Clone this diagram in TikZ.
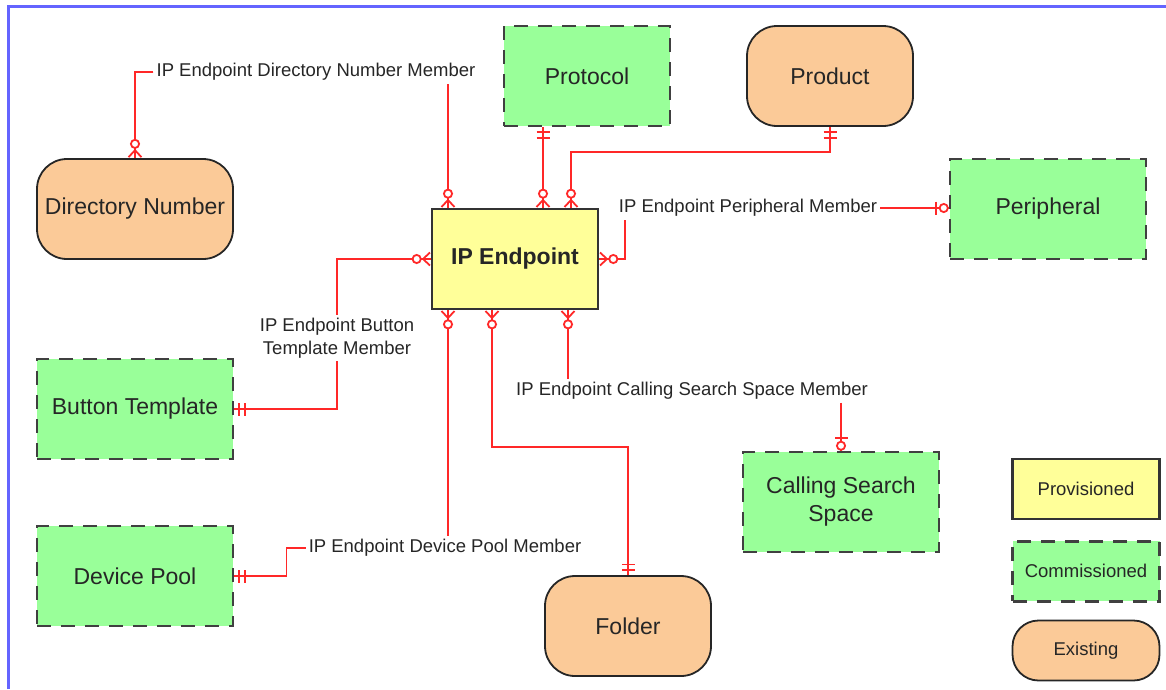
\documentclass[tikz,border=0pt]{standalone}
\usepackage{fontspec}
\setmainfont{Liberation Sans}
\usetikzlibrary{positioning,arrows.meta}
\definecolor{provfill}{RGB}{255,255,153}
\definecolor{commfill}{RGB}{153,255,153}
\definecolor{existfill}{RGB}{251,202,152}
\definecolor{relred}{RGB}{255,40,40}
\definecolor{framebl}{RGB}{100,100,255}

\begin{document}
\begin{tikzpicture}[x=1pt, y=-1pt, node distance=20pt,
    box/.style={rectangle, minimum width=166pt, minimum height=100pt, inner sep=2pt, align=center, text=black!85, font=\fontsize{23}{28}\selectfont},
    prov/.style={box, draw=black!80, line width=2.2pt, fill=provfill},
    comm/.style={box, draw=black!75, line width=2.5pt, dash pattern=on 14pt off 10pt, fill=commfill},
    exist/.style={box, draw=black!85, line width=1.8pt, fill=existfill, rounded corners=30pt},
    wide/.style={minimum width=196pt},
    key/.style={minimum width=147pt, minimum height=60pt, font=\fontsize{18.5}{22}\selectfont},
    lbl/.style={inner sep=3pt, align=center, text=black!85, font=\fontsize{18.5}{23}\selectfont},
    rel/.style={draw=relred, line width=1.8pt, preaction={draw=relred, line width=1.8pt, arrows=-}},
    fromipe/.style={arrows={{Straight Barb[reversed,length=7pt,width=13pt] Circle[open,fill=white,length=10pt,width=10pt]}-}},
    tomany/.style={arrows={-{Circle[open,fill=white,length=10pt,width=10pt] Straight Barb[reversed,length=7pt,width=13pt]}}},
    toone/.style={arrows={-{Bar[width=13pt,sep=4pt] Bar[width=13pt,sep=4pt]}}},
    tozone/.style={arrows={-{Bar[width=13pt,sep=2pt] Circle[open,fill=white,length=10pt,width=10pt]}}},
    ipeone/.style={arrows={{Straight Barb[reversed,length=7pt,width=13pt] Circle[open,fill=white,length=10pt,width=10pt]}-{Bar[width=13pt,sep=4pt] Bar[width=13pt,sep=4pt]}}}]
    \useasboundingbox (0,0) rectangle (1166,689);
    \draw[framebl, line width=3pt] (8,689) -- (8,6) -- (1166,6);

    \node[prov] (ipe) at (515,259) {\textbf{IP Endpoint}};
    \node[comm] (proto) at (587,76) {Protocol};
    \node[exist] (prod) at (830,76) {Product};
    \node[exist, wide] (dirnum) at (135,209) {Directory Number};
    \node[comm, wide] (periph) at (1048,209) {Peripheral};
    \node[comm, wide] (btntpl) at (135,409) {Button Template};
    \node[comm, wide] (devpool) at (135,576) {Device Pool};
    \node[exist] (folder) at (628,626) {Folder};
    \node[comm, wide] (css) at (841,502) {Calling Search\\Space};

    \node[prov, key] (kprov) at (1086,489) {Provisioned};
    \node[comm, key, below=of kprov] (kcomm) {Commissioned};
    \node[exist, key, rounded corners=26pt, below=17pt of kcomm] (kexist) {Existing};

    \node[lbl] (ldir) at (316,72) {IP Endpoint Directory Number Member};
    \node[lbl] (lperiph) at (748,208) {IP Endpoint Peripheral Member};
    \node[lbl] (lbtn) at (337,338) {IP Endpoint Button\\Template Member};
    \node[lbl] (ldev) at (445,548) {IP Endpoint Device Pool Member};
    \node[lbl] (lcss) at (692,391) {IP Endpoint Calling Search Space Member};

    \draw[rel, fromipe] ([xshift=-67pt]ipe.north) -- ([xshift=-67pt]ipe.north |- ldir.south);
    \draw[rel, tomany] (ldir.west) -| (dirnum.north);
    \draw[rel, ipeone] ([xshift=28pt]ipe.north) -- ([xshift=28pt]ipe.north |- proto.south);
    \draw[rel, ipeone] ([xshift=56pt]ipe.north) -- ++(0,-56) -| (prod.south);
    \draw[rel, fromipe] (ipe.east) -| ([xshift=9pt]lperiph.south west);
    \draw[rel, tozone] (lperiph.east) -- (lperiph.east -| periph.west);
    \draw[rel, fromipe] (ipe.west) -| (lbtn.north);
    \draw[rel, toone] (lbtn.south) |- (btntpl.east);
    \draw[rel, fromipe] ([xshift=-67pt]ipe.south) -- ([xshift=-67pt]ipe.south |- ldev.north);
    \draw[rel, toone] (ldev.west) -- ++(-19,0) |- (devpool.east);
    \draw[rel, ipeone] ([xshift=-23pt]ipe.south) -- ++(0,137) -| (folder.north);
    \draw[rel, fromipe] ([xshift=53pt]ipe.south) -- ([xshift=53pt]ipe.south |- lcss.north);
    \draw[rel, tozone] (css.north |- lcss.south) -- (css.north);
\end{tikzpicture}
\end{document}
